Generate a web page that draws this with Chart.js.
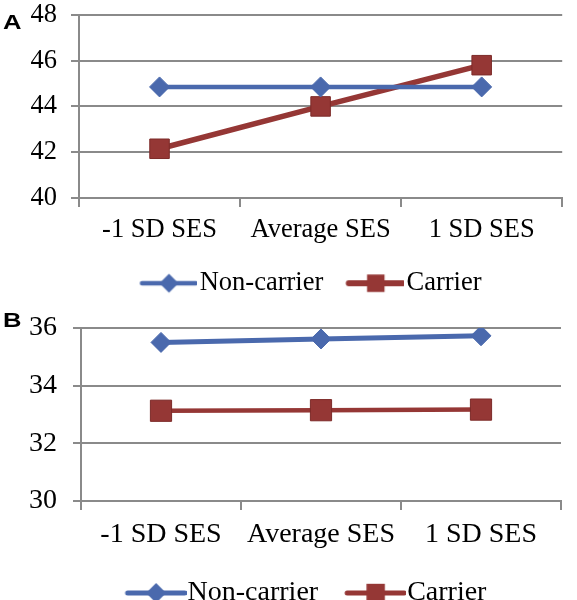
<!DOCTYPE html>
<html><head><meta charset="utf-8">
<script src="https://cdn.jsdelivr.net/npm/chart.js@4"></script>
<style>
body{margin:0;background:#fff;width:577px;height:600px;position:relative;overflow:hidden}
.panel{position:absolute;left:0;width:577px;height:300px}
#pa{top:0}#pb{top:300px}
.lab{position:absolute;font:bold 20px "Liberation Sans",Arial,sans-serif;color:#000;line-height:1;transform:scaleX(1.28);transform-origin:0 0}
</style></head><body>
<div class="panel" id="pa"><canvas id="ca" width="577" height="300"></canvas></div>
<div class="panel" id="pb"><canvas id="cb" width="577" height="300"></canvas></div>
<div class="lab" style="left:3px;top:12px">A</div>
<div class="lab" style="left:3px;top:310px">B</div>
<script>
const categories = ['-1 SD SES', 'Average SES', '1 SD SES'];
const seriesNames = ['Non-carrier', 'Carrier'];
const panelA_nonCarrier = [44.85, 44.85, 44.85];
const panelA_carrier = [42.15, 44.0, 45.8];
const panelB_nonCarrier = [35.5, 35.62, 35.73];
const panelB_carrier = [33.13, 33.15, 33.17];
const panelA_yTicks = [40, 42, 44, 46, 48];
const panelB_yTicks = [30, 32, 34, 36];

const BLUE = '#4a69ad';
const RED = '#953735';
const GRID = '#8a8a8a';
const FONT = "'Liberation Serif','Times New Roman',serif";

function legendImg(color, shape, lw, w, r, pad) {
  const h = 28;
  const c = document.createElement('canvas');
  c.width = w + 2 * pad; c.height = h;
  const g = c.getContext('2d');
  const x0 = 2 * pad, cx = x0 + w / 2, cy = h / 2;
  g.strokeStyle = color; g.lineWidth = lw; g.lineCap = 'round';
  g.beginPath(); g.moveTo(x0 + 2, cy); g.lineTo(x0 + w - 2, cy); g.stroke();
  g.fillStyle = color;
  g.beginPath();
  if (shape === 'diamond') {
    g.moveTo(cx, cy - r); g.lineTo(cx + r, cy); g.lineTo(cx, cy + r); g.lineTo(cx - r, cy); g.closePath();
  } else {
    const s = r * 0.92;
    g.rect(cx - s, cy - s, 2 * s, 2 * s);
  }
  g.fill();
  return c;
}

function makeChart(id, nc, ca, ticks, o) {
  const imgs = [legendImg(BLUE, 'diamond', o.ncW, o.lw, o.lr, o.ip), legendImg(RED, 'square', o.cW + 0.5, o.lw, o.lr, o.ip)];
  const placer = {
    id: 'placer',
    beforeLayout(chart) {
      const lg = chart.legend;
      if (lg && !lg._patched) {
        const f = lg.fit.bind(lg);
        lg.fit = function () { f(); this.height = o.legH; };
        lg._patched = true;
      }
    },
    afterLayout(chart) {
      const lg = chart.legend;
      const h = lg.height;
      lg.left = o.legL; lg.right = o.legR; lg.width = o.legR - o.legL;
      lg.top = o.legTop; lg.bottom = o.legTop + h;
    }
  };
  return new Chart(document.getElementById(id), {
    type: 'line',
    data: {
      labels: categories,
      datasets: [
        { label: seriesNames[0], data: nc, borderColor: BLUE, backgroundColor: BLUE, borderWidth: o.ncW,
          pointStyle: 'rectRot', pointRadius: o.dR, pointHoverRadius: o.dR, pointBorderWidth: 1, pointBorderColor: BLUE, tension: 0 },
        { label: seriesNames[1], data: ca, borderColor: RED, backgroundColor: RED, borderWidth: o.cW,
          pointStyle: 'rect', pointRadius: o.sR, pointHoverRadius: o.sR, pointBorderWidth: 1, pointBorderColor: '#7d2b29', tension: 0 }
      ]
    },
    plugins: [placer],
    options: {
      responsive: false, animation: false,
      layout: { padding: { left: 0, right: o.pr, top: o.pt, bottom: 0 } },
      plugins: {
        tooltip: { enabled: false },
        legend: {
          position: 'bottom',
          labels: {
            usePointStyle: true, pointStyleWidth: o.lw, boxHeight: 24, padding: o.lp,
            color: '#000', font: { family: FONT, size: o.lf },
            generateLabels: () => seriesNames.map((n, i) => ({ text: n, pointStyle: imgs[i], fontColor: '#000', datasetIndex: i, lineWidth: 0, strokeStyle: 'transparent', fillStyle: 'transparent' }))
          }
        }
      },
      scales: {
        x: {
          offset: true,
          afterFit: s => { s.height = o.xh; s.paddingLeft = 0; s.paddingRight = 0; },
          grid: { offset: true, drawOnChartArea: false, drawTicks: true, tickLength: 9, color: GRID, lineWidth: 2 },
          border: { color: GRID, width: 2 },
          ticks: { color: '#000', font: { family: FONT, size: o.fs }, padding: o.xp, maxRotation: 0, autoSkip: false }
        },
        y: {
          min: ticks[0], max: ticks[ticks.length - 1],
          afterBuildTicks: s => { s.ticks = ticks.map(v => ({ value: v })); },
          afterFit: s => { s.width = o.axisX; s.paddingTop = 0; s.paddingBottom = 0; },
          grid: { color: GRID, lineWidth: 2, tickLength: 8 },
          border: { color: GRID, width: 2 },
          ticks: { color: '#000', font: { family: FONT, size: o.fs }, padding: o.yp }
        }
      }
    }
  });
}

makeChart('ca', panelA_nonCarrier, panelA_carrier, panelA_yTicks,
  { pr: 3, pt: 11, axisX: 79, ncW: 4.5, cW: 5.5, dR: 10, sR: 13.8, fs: 26.5, lf: 26.5, lw: 58, lr: 9.5, ip: 11.25, lp: 12,
    xp: 7, yp: 14, xh: 62, legH: 40, legTop: 258, legL: 36, legR: 574 });
makeChart('cb', panelB_nonCarrier, panelB_carrier, panelB_yTicks,
  { pr: 11, pt: 28, axisX: 81, ncW: 5, cW: 4.5, dR: 10, sR: 15, fs: 28, lf: 28, lw: 61, lr: 10, ip: 13, lp: 14,
    xp: 8, yp: 16, xh: 59, legH: 40, legTop: 265, legL: 33, legR: 566 });
</script>
</body></html>
